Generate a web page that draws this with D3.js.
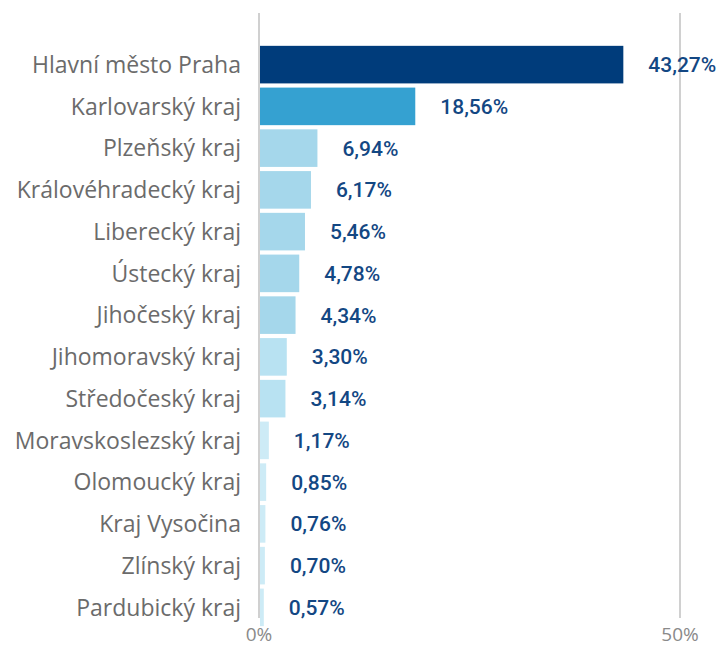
<!DOCTYPE html>
<html>
  <head>
    <meta charset="utf-8">
    <script src="https://d3js.org/d3.v7.min.js"></script>
    <style>
      body { margin: 0; background: #fff; }
    </style>
  </head>
  <body>
    <script>
      var regions = ["Hlavní město Praha", "Karlovarský kraj", "Plzeňský kraj", "Královéhradecký kraj",
        "Liberecký kraj", "Ústecký kraj", "Jihočeský kraj", "Jihomoravský kraj", "Středočeský kraj",
        "Moravskoslezský kraj", "Olomoucký kraj", "Kraj Vysočina", "Zlínský kraj", "Pardubický kraj"]
      var shares = [43.27, 18.56, 6.94, 6.17, 5.46, 4.78, 4.34, 3.30, 3.14, 1.17, 0.85, 0.76, 0.70, 0.57]
      var ticks = [0, 50]

      var width = 718
      var height = 647

      var svg = d3.select("body").append("svg")
        .attr("width", width)
        .attr("height", height)

      var x = d3.scaleLinear().domain([0, 50]).range([259, 680])
      var y = d3.scaleBand().domain(regions).range([45, 627]).paddingInner(0.1).paddingOuter(0.02)

      var color = d3.scaleThreshold()
        .domain([2, 4, 10, 30])
        .range(["#cdebf6", "#b8e2f2", "#a5d7eb", "#35a1d1", "#003c7b"])

      // gridlines
      svg.selectAll(".grid").data(ticks).enter().append("line")
        .attr("x1", d => x(d)).attr("x2", d => x(d))
        .attr("y1", 13).attr("y2", 618)
        .style("stroke", "#d0d0d0")
        .style("stroke-width", 2)

      svg.selectAll(".bar").data(shares).enter().append("rect")
        .attr("x", x(0) + 1)
        .attr("y", (d, i) => y(regions[i]))
        .attr("width", d => x(d) - x(0) - 1)
        .attr("height", y.bandwidth())
        .attr("fill", d => color(d))

      // category labels
      svg.selectAll(".cat").data(regions).enter().append("text")
        .attr("x", 241)
        .attr("y", d => y(d) + y.bandwidth() / 2)
        .attr("dy", "0.36em")
        .attr("text-anchor", "end")
        .style("font-family", "'Open Sans', sans-serif")
        .style("font-size", "23px")
        .style("fill", "#6b6b6b")
        .text(d => d)

      // value labels
      svg.selectAll(".val").data(shares).enter().append("text")
        .attr("x", d => x(d) + 25)
        .attr("y", (d, i) => y(regions[i]) + y.bandwidth() / 2)
        .attr("dy", "0.36em")
        .style("font-family", "Roboto, sans-serif")
        .style("font-weight", 500)
        .style("font-size", "21px")
        .style("fill", "#134783")
        .text(d => d.toFixed(2).replace(".", ",") + "%")

      // axis ticks
      svg.selectAll(".tick").data(ticks).enter().append("text")
        .attr("x", d => x(d))
        .attr("y", 641)
        .attr("text-anchor", "middle")
        .style("font-family", "'Open Sans', sans-serif")
        .style("font-size", "19px")
        .style("fill", "#8a8a8a")
        .text(d => d + "%")
    </script>
  </body>
</html>
